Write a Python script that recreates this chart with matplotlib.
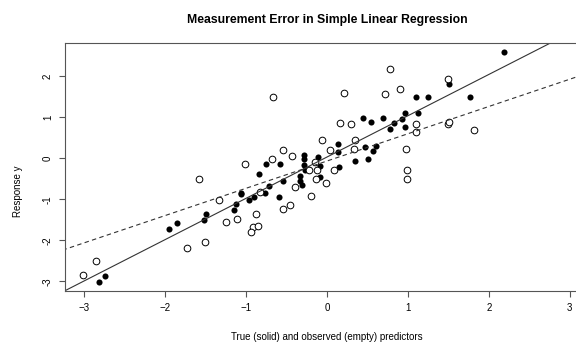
import matplotlib
matplotlib.use("Agg")
import matplotlib.pyplot as plt
import numpy as np

plt.rcParams['font.family'] = ['Liberation Sans', 'DejaVu Sans']

# true predictors (solid points)
x_true = [-2.82, -2.75, -1.96, -1.85, -1.50, -1.52, -1.13, -1.15, -1.07, -1.07,
          -0.97, -0.91, -0.84, -0.77, -0.72, -0.75, -0.58, -0.59, -0.54, -0.29,
          -0.29, -0.11, -0.29, -0.33, -0.34, -0.31, -0.27, -0.09, -0.09, 0.15,
          0.34, 0.50, 0.13, 0.57, 0.13, 0.44, 0.54, 0.69, 0.47, 0.60,
          0.78, 0.83, 0.93, 0.96, 0.96, 1.10, 1.25, 1.12, 1.51, 1.77, 2.19]
y_true = [-3.02, -2.86, -1.73, -1.58, -1.35, -1.51, -1.11, -1.26, -0.84, -0.88,
          -1.02, -0.94, -0.39, -0.85, -0.68, -0.14, -0.14, -0.94, -0.55, 0.09,
          -0.02, 0.02, -0.16, -0.43, -0.55, -0.66, -0.29, -0.19, -0.46, -0.22,
          -0.06, -0.02, 0.16, 0.19, 0.35, 0.98, 0.89, 0.99, 0.28, 0.31,
          0.71, 0.87, 0.95, 1.10, 0.77, 1.49, 1.49, 1.10, 1.81, 1.50, 2.59]

# observed predictors (empty points)
x_obs = [-3.02, -2.86, -1.58, -1.34, -1.25, -1.11, -1.51, -1.73, -1.01, -0.68,
         -0.54, -0.44, -0.83, -0.40, -0.54, -0.46, -0.88, -0.92, -0.86, -0.94,
         -0.20, -0.23, -0.13, 0.08, -0.15, -0.14, -0.02, -0.67, 0.21, 0.78,
         0.72, 0.90, 0.16, 0.30, -0.06, 0.35, 0.03, 0.33, 0.97, 0.99,
         0.99, 1.49, 1.10, 1.10, 1.49, 1.51, 1.81]
y_obs = [-2.85, -2.51, -0.50, -1.02, -1.55, -1.48, -2.03, -2.20, -0.13, -0.02,
         0.20, 0.05, -0.82, -0.69, -1.24, -1.14, -1.35, -1.67, -1.65, -1.80,
         -0.91, -0.29, -0.29, -0.29, -0.08, -0.51, -0.60, 1.49, 1.60, 2.19,
         1.58, 1.69, 0.87, 0.83, 0.45, 0.45, 0.20, 0.23, 0.23, -0.28,
         -0.50, 1.93, 0.84, 0.63, 0.84, 0.89, 0.69]

# fitted lines as drawn (intercept, slope)
fit_true = (0.033, 1.007)
fit_obs = (-0.065, 0.665)

x_ticks = [-3, -2, -1, 0, 1, 2, 3]
y_ticks = [-3, -2, -1, 0, 1, 2]

fig = plt.figure(figsize=(5.76, 3.5), dpi=100)
ax = fig.add_axes([0.1123, 0.1694, 0.9113, 0.7086])

ax.plot(x_true, y_true, 'o', color='black', markersize=4.4, markeredgewidth=0)
ax.plot(x_obs, y_obs, 'o', markerfacecolor='white', markeredgecolor='black',
        markersize=4.8, markeredgewidth=0.7)

xs = np.array([-4, 4])
ax.plot(xs, fit_true[0] + fit_true[1] * xs, color='#333333', lw=0.8)
ax.plot(xs, fit_obs[0] + fit_obs[1] * xs, color='#333333', lw=0.8,
        linestyle=(0, (4, 3)))

ax.set_xlim(-3.244, 3.244)
ax.set_ylim(-3.23, 2.82)
ax.set_xticks(x_ticks)
ax.set_yticks(y_ticks)
ax.set_yticklabels([str(t) for t in y_ticks], rotation=90, va='center')
ax.tick_params(labelsize=7, length=4.5, width=0.8, color='#555555', pad=4)
for s in ax.spines.values():
    s.set_color('#555555')
    s.set_linewidth(0.8)

ax.set_title("Measurement Error in Simple Linear Regression", fontsize=8.8,
             fontweight='bold', pad=14, x=0.5)
ax.set_xlabel("True (solid) and observed (empty) predictors", fontsize=7,
              labelpad=14)
ax.set_ylabel("Response y", fontsize=7)
ax.yaxis.set_label_coords(-0.08, 0.40)

fig.savefig("out.png", dpi=100)
